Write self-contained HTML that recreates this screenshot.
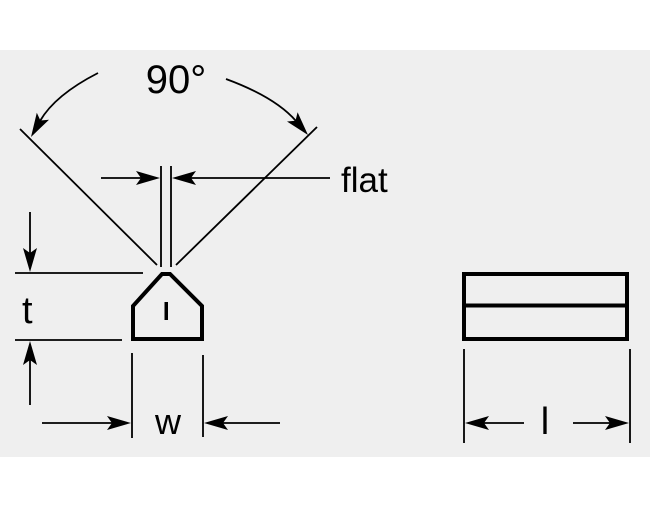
<!DOCTYPE html>
<html><head><style>
html,body{margin:0;padding:0;background:#fff;}
svg{display:block;}
text{font-family:"Liberation Sans",sans-serif;fill:#000;}
</style></head><body>
<svg width="650" height="508" viewBox="0 0 650 508" xmlns="http://www.w3.org/2000/svg">
<rect x="0" y="50" width="650" height="407" fill="#efefef"/>
<g stroke="#000" stroke-width="1.8" fill="none">
<line x1="20" y1="129" x2="157" y2="265"/>
<line x1="317" y1="127" x2="176" y2="265"/>
<path d="M98,73 Q55,95 40,121"/>
<path d="M226,79 Q275,97 296,121"/>
<line x1="161" y1="166" x2="161" y2="267"/>
<line x1="171" y1="166" x2="171" y2="267"/>
<line x1="101" y1="178" x2="145" y2="178"/>
<line x1="330" y1="178" x2="188" y2="178"/>
<line x1="15" y1="273" x2="143" y2="273"/>
<line x1="15" y1="340" x2="122" y2="340"/>
<line x1="30" y1="212" x2="30" y2="255"/>
<line x1="30" y1="405" x2="30" y2="358"/>
<line x1="132" y1="353" x2="132" y2="438"/>
<line x1="203" y1="355" x2="203" y2="437"/>
<line x1="42" y1="423" x2="115" y2="423"/>
<line x1="280" y1="423" x2="220" y2="423"/>
<line x1="464" y1="349" x2="464" y2="443"/>
<line x1="630" y1="349" x2="630" y2="443"/>
<line x1="524" y1="423" x2="480" y2="423"/>
<line x1="573" y1="423" x2="614" y2="423"/>
</g>
<g fill="#000">
<polygon points="160,178 136,171 141,178 136,185"/>
<polygon points="172,178 196,171 191,178 196,185"/>
<polygon points="30,272 23,248 30,253 37,248"/>
<polygon points="30,341 23,365 30,360 37,365"/>
<polygon points="131,423 107,416 112,423 107,430"/>
<polygon points="204,423 228,416 223,423 228,430"/>
<polygon points="465,423 489,416 484,423 489,430"/>
<polygon points="629,423 605,416 610,423 605,430"/>
<polygon points="31,137 49,119.7 40.4,120.5 36.8,112.7"/>
<polygon points="308,135 287,121.5 295.5,120.7 297.6,112.3"/>
</g>
<g stroke="#000" stroke-width="4" fill="none" stroke-linejoin="miter">
<path d="M133,339 L133,306 L162,274 L170,274 L202,306 L202,339 Z"/>
<rect x="464" y="274" width="163" height="65"/>
<line x1="464" y1="305.5" x2="627" y2="305.5"/>
</g>
<rect x="164.5" y="302" width="3.5" height="18" fill="#000"/>
<text x="176" y="93" font-size="40" text-anchor="middle">90°</text>
<text x="341" y="192" font-size="35">flat</text>
<text x="22" y="323" font-size="38">t</text>
<text x="168" y="434" font-size="36" text-anchor="middle">w</text>
<text x="545" y="434" font-size="38" text-anchor="middle">l</text>
</svg>
</body></html>
